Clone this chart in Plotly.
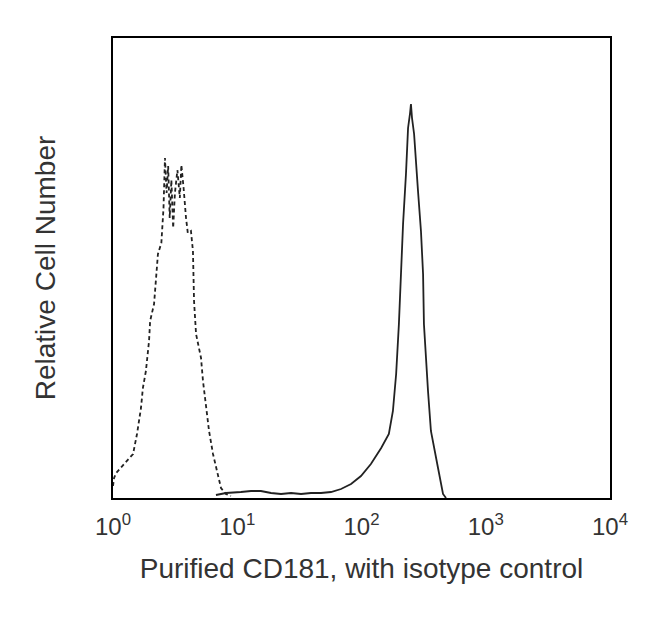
import plotly.graph_objects as go

# isotype control (dashed)
iso_x = [1.0, 1.02, 1.06, 1.23, 1.45, 1.56, 1.68, 1.74, 1.84, 1.95, 1.99, 2.14, 2.22, 2.30,
         2.45, 2.55, 2.62, 2.70, 2.78, 2.86, 2.95, 3.05, 3.15, 3.30, 3.45, 3.55, 3.70, 3.80,
         3.87, 4.00, 4.24, 4.40, 4.49, 4.66, 5.11, 5.30, 5.60, 5.93, 6.38, 7.00, 7.40, 8.10, 8.90]
iso_y = [12, 20, 25, 34, 44, 64, 90, 110, 127, 157, 177, 194, 224, 244,
         255, 290, 340, 305, 332, 280, 318, 270, 305, 328, 300, 333, 310, 290,
         280, 265, 267, 247, 197, 164, 140, 117, 90, 67, 44, 24, 10, 4, 2]

# purified CD181 (solid)
cd_x = [6.74, 8.12, 10.7, 12.9, 15.5, 18.7, 22.5, 27.1, 32.6, 39.2, 47.2, 56.8, 68.4, 82.4,
        99, 119, 144, 166, 179, 190, 200, 208, 216, 228, 237, 246, 250, 255, 265, 285,
        301, 313, 318, 343, 362, 413, 453, 479]
cd_y = [3, 5, 6, 7, 7, 5, 4, 5, 4, 5, 5, 6, 9, 14,
        22, 34, 50, 64, 87, 124, 174, 224, 274, 324, 370, 385, 394, 380, 364, 307,
        267, 224, 174, 107, 67, 30, 4, 0]

tick_vals = [1, 10, 100, 1000, 10000]
tick_text = ["10<sup>0</sup>", "10<sup>1</sup>", "10<sup>2</sup>", "10<sup>3</sup>", "10<sup>4</sup>"]

fig = go.Figure()
fig.add_trace(go.Scatter(x=iso_x, y=iso_y, mode='lines',
                         line=dict(color='#222', width=1.8, dash='4px,3px')))
fig.add_trace(go.Scatter(x=cd_x, y=cd_y, mode='lines',
                         line=dict(color='#222', width=1.8)))

# page body has a small margin, so the figure is a little smaller than the window
fig.update_layout(
    width=642, height=614,
    margin=dict(l=105, r=40, t=30, b=124),
    paper_bgcolor='white', plot_bgcolor='white',
    showlegend=False,
    font=dict(family='Liberation Sans, Arial', color='#333'),
    xaxis=dict(
        type='log', range=[0, 4],
        tickvals=tick_vals, ticktext=tick_text,
        tickfont=dict(size=24), ticks='', ticklabelstandoff=6,
        showgrid=False, zeroline=False,
        showline=True, mirror=True, linecolor='black', linewidth=2,
        title=dict(text='Purified CD181, with isotype control', font=dict(size=28), standoff=20),
    ),
    yaxis=dict(
        range=[0, 460],
        showticklabels=False, ticks='',
        showgrid=False, zeroline=False,
        showline=True, mirror=True, linecolor='black', linewidth=2,
        title=dict(text='Relative Cell Number', font=dict(size=28), standoff=47),
    ),
)

fig.write_html("out.html")
